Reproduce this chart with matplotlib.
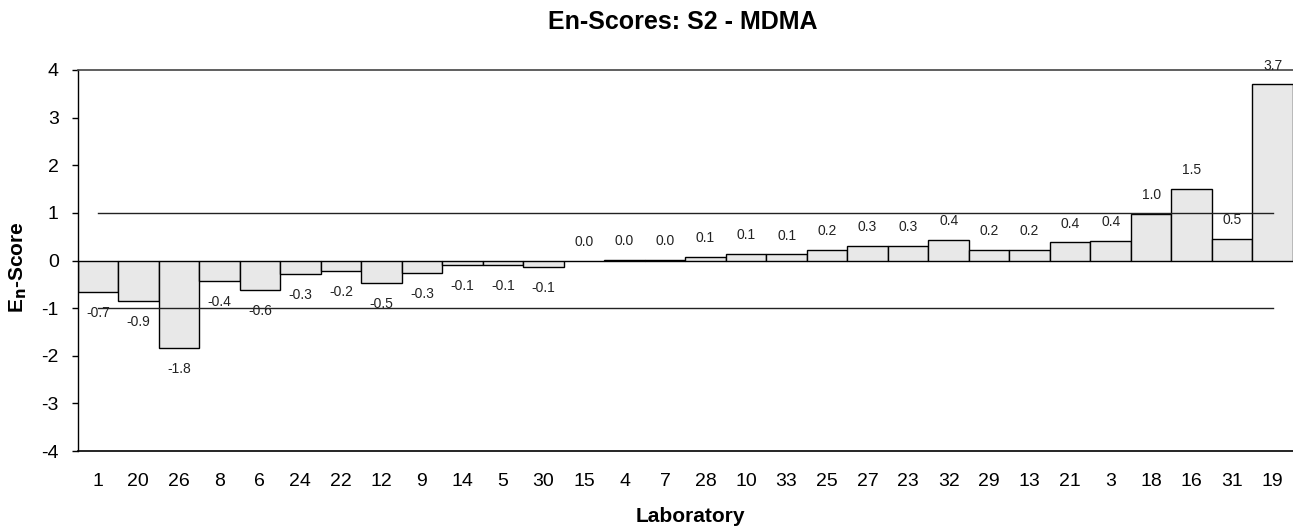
import matplotlib
matplotlib.use("Agg")
import matplotlib.pyplot as plt

plt.rcParams["font.family"] = ["Liberation Sans", "DejaVu Sans"]
plt.rcParams["axes.unicode_minus"] = False

# En-scores per laboratory, sorted as reported
labs = ["1", "20", "26", "8", "6", "24", "22", "12", "9", "14", "5", "30", "15", "4", "7",
        "28", "10", "33", "25", "27", "23", "32", "29", "13", "21", "3", "18", "16", "31", "19"]
en_scores = [-0.67, -0.86, -1.83, -0.43, -0.62, -0.29, -0.22, -0.48, -0.26, -0.10, -0.10, -0.14,
             0.0, 0.02, 0.02, 0.08, 0.14, 0.13, 0.22, 0.30, 0.30, 0.44, 0.22, 0.22, 0.38, 0.41,
             0.98, 1.51, 0.46, 3.70]
limit = 1.0

fig = plt.figure(figsize=(12.93, 5.29), dpi=100)
ax = fig.add_axes([0.060, 0.1474, 0.940, 0.7203])

x = list(range(len(labs)))
ax.bar(x, en_scores, width=1.0, color="#e8e8e8", edgecolor="black", linewidth=1.0, zorder=2)

# acceptance limits |En| <= 1
ax.plot([x[0], x[-1]], [limit, limit], color="#222222", lw=1.0, zorder=3)
ax.plot([x[0], x[-1]], [-limit, -limit], color="#222222", lw=1.0, zorder=3)

for xi, v in zip(x, en_scores):
    txt = f"{abs(v):.1f}" if round(v, 1) == 0 else f"{v:.1f}"
    if v >= 0:
        ax.annotate(txt, (xi, v), xytext=(0, 13.5), textcoords="offset points",
                    ha="center", va="center", fontsize=10, color="#222222")
    else:
        ax.annotate(txt, (xi, v), xytext=(0, -15), textcoords="offset points",
                    ha="center", va="center", fontsize=10, color="#222222")

ax.set_xlim(-0.5, len(labs) - 0.5)
ax.set_ylim(-4, 4)
ax.set_yticks(range(-4, 5))
ax.set_xticks(x)
ax.set_xticklabels(labs)
ax.tick_params(axis="y", labelsize=14, length=4.5, width=1, pad=9)
ax.tick_params(axis="x", labelsize=14, length=0, pad=16)

ax.spines["right"].set_visible(False)
ax.spines["top"].set_color("#444444")
ax.spines["top"].set_linewidth(1.2)
ax.spines["left"].set_linewidth(1.0)
ax.spines["bottom"].set_linewidth(1.2)

fig.text(690 / 1293, 1 - 516 / 529, "Laboratory", fontsize=15, fontweight="bold",
         ha="center", va="center")
fig.text(18 / 1293, 1 - 267 / 529, "E$_\\mathbf{n}$-Score", fontsize=15, fontweight="bold",
         rotation=90, ha="center", va="center")
fig.text(683 / 1293, 1 - 22 / 529, "En-Scores: S2 - MDMA", fontsize=18, fontweight="bold",
         ha="center", va="center")

fig.savefig("out.png", dpi=100)
